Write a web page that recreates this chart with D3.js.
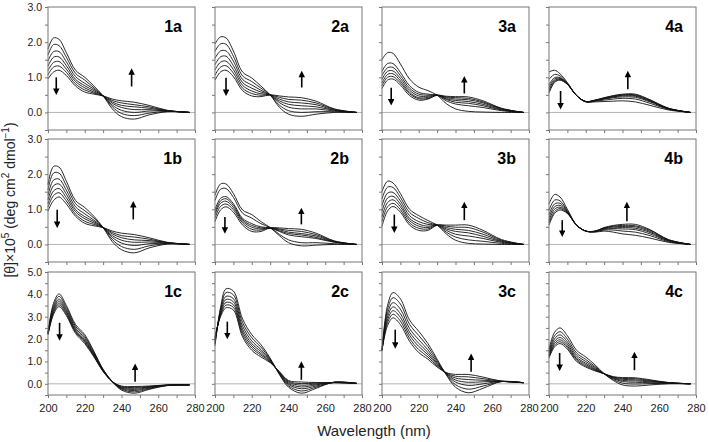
<!DOCTYPE html>
<html>
<head>
<meta charset="utf-8">
<script src="https://cdn.jsdelivr.net/npm/d3@7"></script>
<style>
  body { margin: 0; background: #fff; }
  svg { font-family: "Liberation Sans", Arial, sans-serif; }
  .tick text { fill: #222; }
</style>
</head>
<body>
<div id="chart"></div>
<script>
// wavelength grid (nm) shared by every spectrum
var wavelengths = [200, 203, 206, 210, 215, 220, 225, 230, 235, 240, 247, 255, 265, 277];

// [θ]×10^5 values, one row per spectrum
var p1a = [
  [1.80, 2.12, 2.08, 1.70, 1.20, 1.00, 0.75, 0.47, 0.10, -0.12, -0.19, -0.07, 0.02, 0.00],
  [1.63, 1.93, 1.90, 1.57, 1.11, 0.92, 0.70, 0.47, 0.16, -0.03, -0.09, -0.02, 0.03, 0.00],
  [1.46, 1.73, 1.73, 1.44, 1.02, 0.83, 0.66, 0.47, 0.21, 0.06, 0.00, 0.04, 0.04, 0.00],
  [1.32, 1.57, 1.58, 1.33, 0.94, 0.76, 0.62, 0.47, 0.26, 0.14, 0.08, 0.08, 0.04, 0.00],
  [1.19, 1.42, 1.45, 1.23, 0.88, 0.70, 0.58, 0.47, 0.30, 0.20, 0.16, 0.12, 0.05, 0.00],
  [1.07, 1.29, 1.32, 1.14, 0.81, 0.64, 0.55, 0.47, 0.34, 0.27, 0.22, 0.16, 0.05, 0.00],
  [0.95, 1.15, 1.20, 1.05, 0.75, 0.58, 0.52, 0.47, 0.38, 0.33, 0.29, 0.20, 0.06, 0.00]
];
var p1b = [
  [1.70, 2.22, 2.20, 1.80, 1.25, 1.05, 0.80, 0.48, 0.08, -0.15, -0.24, -0.10, 0.01, 0.00],
  [1.55, 2.03, 2.03, 1.67, 1.16, 0.96, 0.75, 0.48, 0.14, -0.06, -0.14, -0.04, 0.02, 0.00],
  [1.40, 1.83, 1.86, 1.54, 1.07, 0.87, 0.69, 0.48, 0.20, 0.04, -0.03, 0.02, 0.03, 0.00],
  [1.27, 1.67, 1.72, 1.43, 0.99, 0.79, 0.65, 0.48, 0.25, 0.12, 0.06, 0.07, 0.04, 0.00],
  [1.16, 1.52, 1.59, 1.33, 0.93, 0.73, 0.61, 0.48, 0.30, 0.19, 0.13, 0.11, 0.05, 0.00],
  [1.06, 1.39, 1.47, 1.24, 0.86, 0.66, 0.57, 0.48, 0.34, 0.25, 0.21, 0.15, 0.05, 0.00],
  [0.95, 1.25, 1.35, 1.15, 0.80, 0.60, 0.53, 0.48, 0.38, 0.32, 0.28, 0.19, 0.06, 0.00]
];
var p1c = [
  [2.30, 3.60, 4.02, 3.50, 2.65, 2.20, 1.45, 0.65, 0.10, -0.28, -0.42, -0.25, -0.08, -0.05],
  [2.28, 3.50, 3.91, 3.41, 2.57, 2.12, 1.40, 0.63, 0.10, -0.24, -0.36, -0.22, -0.07, -0.05],
  [2.26, 3.40, 3.79, 3.32, 2.49, 2.04, 1.35, 0.61, 0.10, -0.21, -0.30, -0.19, -0.07, -0.05],
  [2.24, 3.32, 3.70, 3.24, 2.42, 1.97, 1.31, 0.59, 0.10, -0.18, -0.25, -0.16, -0.06, -0.05],
  [2.23, 3.24, 3.61, 3.18, 2.36, 1.91, 1.27, 0.58, 0.10, -0.15, -0.20, -0.14, -0.06, -0.05],
  [2.21, 3.17, 3.53, 3.11, 2.31, 1.86, 1.24, 0.56, 0.10, -0.13, -0.16, -0.12, -0.05, -0.05],
  [2.20, 3.10, 3.45, 3.05, 2.25, 1.80, 1.20, 0.55, 0.10, -0.10, -0.12, -0.10, -0.05, -0.05]
];
var p2a = [
  [1.95, 2.15, 2.12, 1.75, 1.15, 0.98, 0.75, 0.50, 0.15, -0.05, -0.11, -0.05, 0.00, 0.00],
  [1.74, 1.95, 1.94, 1.60, 1.04, 0.88, 0.69, 0.50, 0.21, 0.05, 0.00, 0.02, 0.02, 0.00],
  [1.54, 1.75, 1.75, 1.46, 0.94, 0.78, 0.63, 0.50, 0.28, 0.15, 0.10, 0.10, 0.04, 0.00],
  [1.36, 1.58, 1.60, 1.33, 0.85, 0.69, 0.58, 0.50, 0.33, 0.23, 0.19, 0.16, 0.06, 0.00],
  [1.21, 1.43, 1.46, 1.22, 0.77, 0.61, 0.53, 0.50, 0.38, 0.30, 0.27, 0.22, 0.07, 0.00],
  [1.06, 1.29, 1.33, 1.12, 0.69, 0.54, 0.49, 0.50, 0.43, 0.37, 0.35, 0.27, 0.09, 0.00],
  [0.92, 1.15, 1.20, 1.02, 0.62, 0.47, 0.45, 0.50, 0.47, 0.44, 0.42, 0.32, 0.10, 0.00]
];
var p2b = [
  [1.40, 1.72, 1.72, 1.45, 0.98, 0.85, 0.65, 0.48, 0.25, 0.05, -0.04, -0.02, 0.00, 0.00],
  [1.25, 1.57, 1.59, 1.34, 0.89, 0.75, 0.59, 0.48, 0.29, 0.13, 0.05, 0.05, 0.02, 0.00],
  [0.99, 1.31, 1.36, 1.16, 0.74, 0.59, 0.50, 0.47, 0.37, 0.27, 0.22, 0.17, 0.06, 0.00],
  [0.91, 1.24, 1.30, 1.11, 0.70, 0.54, 0.47, 0.47, 0.39, 0.31, 0.27, 0.20, 0.07, 0.00],
  [0.84, 1.17, 1.23, 1.05, 0.66, 0.49, 0.44, 0.47, 0.42, 0.35, 0.31, 0.24, 0.08, 0.00],
  [0.75, 1.08, 1.15, 0.99, 0.61, 0.43, 0.41, 0.47, 0.44, 0.40, 0.37, 0.28, 0.09, 0.00],
  [0.65, 0.98, 1.07, 0.92, 0.55, 0.37, 0.37, 0.47, 0.47, 0.45, 0.43, 0.32, 0.10, 0.00]
];
var p2c = [
  [1.70, 3.40, 4.25, 4.15, 2.90, 2.20, 1.75, 1.15, 0.42, -0.15, -0.42, -0.20, 0.08, 0.02],
  [1.78, 3.32, 4.08, 3.98, 2.74, 2.06, 1.64, 1.11, 0.45, -0.09, -0.32, -0.15, 0.07, 0.02],
  [1.86, 3.24, 3.91, 3.81, 2.58, 1.92, 1.53, 1.07, 0.47, -0.03, -0.22, -0.10, 0.07, 0.02],
  [1.93, 3.17, 3.77, 3.67, 2.44, 1.80, 1.44, 1.04, 0.49, 0.02, -0.14, -0.05, 0.06, 0.02],
  [1.99, 3.11, 3.64, 3.54, 2.32, 1.70, 1.35, 1.01, 0.51, 0.07, -0.06, -0.01, 0.06, 0.02],
  [2.04, 3.06, 3.52, 3.42, 2.21, 1.60, 1.28, 0.98, 0.53, 0.11, 0.01, 0.03, 0.05, 0.02],
  [2.10, 3.00, 3.40, 3.30, 2.10, 1.50, 1.20, 0.95, 0.55, 0.15, 0.08, 0.06, 0.05, 0.02]
];
var p3a = [
  [1.50, 1.70, 1.68, 1.38, 0.95, 0.72, 0.62, 0.49, 0.25, 0.10, 0.03, 0.01, 0.00, 0.00],
  [1.17, 1.39, 1.39, 1.14, 0.76, 0.57, 0.52, 0.49, 0.33, 0.24, 0.19, 0.14, 0.05, 0.00],
  [1.05, 1.27, 1.28, 1.05, 0.69, 0.52, 0.49, 0.49, 0.37, 0.29, 0.26, 0.19, 0.07, 0.00],
  [0.94, 1.17, 1.18, 0.97, 0.63, 0.47, 0.46, 0.49, 0.39, 0.34, 0.31, 0.23, 0.08, 0.00],
  [0.84, 1.08, 1.10, 0.90, 0.57, 0.42, 0.43, 0.49, 0.42, 0.38, 0.36, 0.27, 0.10, 0.00],
  [0.76, 1.00, 1.02, 0.84, 0.53, 0.39, 0.40, 0.49, 0.44, 0.42, 0.40, 0.30, 0.11, 0.00],
  [0.68, 0.92, 0.95, 0.78, 0.48, 0.35, 0.38, 0.49, 0.46, 0.45, 0.44, 0.33, 0.12, 0.00]
];
var p3b = [
  [1.50, 1.80, 1.75, 1.45, 1.00, 0.82, 0.68, 0.55, 0.30, 0.12, 0.03, 0.01, 0.00, 0.00],
  [1.30, 1.63, 1.62, 1.34, 0.91, 0.74, 0.62, 0.55, 0.35, 0.21, 0.13, 0.09, 0.03, 0.00],
  [1.11, 1.46, 1.48, 1.24, 0.82, 0.65, 0.57, 0.55, 0.40, 0.29, 0.24, 0.17, 0.06, 0.00],
  [0.94, 1.32, 1.37, 1.15, 0.74, 0.58, 0.52, 0.55, 0.44, 0.37, 0.33, 0.23, 0.08, 0.00],
  [0.79, 1.19, 1.27, 1.07, 0.68, 0.52, 0.48, 0.55, 0.48, 0.43, 0.40, 0.29, 0.10, 0.00],
  [0.66, 1.07, 1.17, 0.99, 0.61, 0.46, 0.44, 0.55, 0.52, 0.49, 0.48, 0.35, 0.12, 0.00],
  [0.52, 0.95, 1.08, 0.92, 0.55, 0.40, 0.40, 0.55, 0.55, 0.55, 0.55, 0.40, 0.14, 0.00]
];
var p3c = [
  [1.50, 3.50, 4.08, 3.80, 2.85, 2.35, 1.80, 1.10, 0.40, -0.15, -0.40, -0.20, 0.10, 0.05],
  [1.50, 3.32, 3.85, 3.57, 2.66, 2.16, 1.66, 1.03, 0.42, -0.04, -0.24, -0.10, 0.10, 0.05],
  [1.50, 3.14, 3.63, 3.34, 2.47, 1.97, 1.52, 0.96, 0.44, 0.08, -0.07, 0.00, 0.11, 0.05],
  [1.50, 2.99, 3.44, 3.14, 2.31, 1.81, 1.40, 0.90, 0.46, 0.17, 0.07, 0.09, 0.11, 0.05],
  [1.50, 2.85, 3.27, 2.97, 2.17, 1.67, 1.30, 0.85, 0.47, 0.26, 0.19, 0.16, 0.11, 0.05],
  [1.50, 2.73, 3.11, 2.81, 2.03, 1.53, 1.20, 0.80, 0.49, 0.34, 0.31, 0.23, 0.12, 0.05],
  [1.50, 2.60, 2.95, 2.65, 1.90, 1.40, 1.10, 0.75, 0.50, 0.42, 0.42, 0.30, 0.12, 0.05]
];
var p4a = [
  [1.15, 1.20, 1.10, 0.85, 0.48, 0.30, 0.30, 0.31, 0.32, 0.33, 0.30, 0.20, 0.07, 0.00],
  [0.94, 1.08, 1.04, 0.83, 0.48, 0.30, 0.32, 0.35, 0.38, 0.40, 0.38, 0.26, 0.09, 0.00],
  [0.79, 0.99, 0.99, 0.82, 0.48, 0.31, 0.33, 0.38, 0.42, 0.44, 0.43, 0.30, 0.10, 0.00],
  [0.72, 0.95, 0.97, 0.81, 0.48, 0.31, 0.34, 0.39, 0.44, 0.47, 0.46, 0.32, 0.11, 0.00],
  [0.66, 0.91, 0.95, 0.81, 0.48, 0.31, 0.34, 0.40, 0.45, 0.49, 0.48, 0.33, 0.11, 0.00],
  [0.60, 0.88, 0.93, 0.80, 0.48, 0.31, 0.35, 0.41, 0.47, 0.50, 0.50, 0.35, 0.12, 0.00],
  [0.55, 0.85, 0.92, 0.80, 0.48, 0.31, 0.35, 0.42, 0.48, 0.52, 0.52, 0.36, 0.12, 0.00]
];
var p4b = [
  [1.15, 1.42, 1.35, 1.00, 0.55, 0.38, 0.35, 0.38, 0.35, 0.30, 0.26, 0.18, 0.06, 0.00],
  [0.97, 1.26, 1.24, 0.96, 0.55, 0.38, 0.36, 0.41, 0.41, 0.38, 0.35, 0.25, 0.08, 0.00],
  [0.85, 1.15, 1.17, 0.94, 0.55, 0.38, 0.37, 0.43, 0.45, 0.44, 0.42, 0.30, 0.10, 0.00],
  [0.76, 1.07, 1.11, 0.92, 0.55, 0.38, 0.37, 0.45, 0.47, 0.48, 0.46, 0.34, 0.11, 0.00],
  [0.68, 1.00, 1.06, 0.91, 0.55, 0.38, 0.37, 0.46, 0.50, 0.51, 0.50, 0.37, 0.12, 0.00],
  [0.61, 0.93, 1.02, 0.89, 0.55, 0.38, 0.38, 0.47, 0.52, 0.54, 0.53, 0.40, 0.13, 0.00],
  [0.55, 0.88, 0.98, 0.88, 0.55, 0.38, 0.38, 0.48, 0.54, 0.57, 0.57, 0.42, 0.14, 0.00]
];
var p4c = [
  [1.55, 2.30, 2.50, 2.15, 1.50, 1.20, 0.85, 0.45, 0.15, -0.05, -0.10, -0.05, 0.00, 0.00],
  [1.45, 2.14, 2.33, 2.00, 1.38, 1.09, 0.78, 0.45, 0.19, 0.03, -0.01, 0.01, 0.02, 0.00],
  [1.37, 2.01, 2.19, 1.88, 1.28, 1.00, 0.73, 0.45, 0.23, 0.10, 0.07, 0.05, 0.03, 0.00],
  [1.30, 1.90, 2.07, 1.78, 1.19, 0.92, 0.68, 0.45, 0.26, 0.15, 0.13, 0.09, 0.04, 0.00],
  [1.25, 1.81, 1.97, 1.69, 1.12, 0.86, 0.64, 0.45, 0.28, 0.20, 0.18, 0.12, 0.05, 0.00],
  [1.20, 1.73, 1.88, 1.62, 1.06, 0.80, 0.61, 0.45, 0.30, 0.24, 0.23, 0.15, 0.05, 0.00],
  [1.15, 1.65, 1.80, 1.55, 1.00, 0.75, 0.58, 0.45, 0.32, 0.28, 0.27, 0.18, 0.06, 0.00]
];

// trend arrows in data units: [wavelength, from, to]
var downArrows = {
  "1a": [204.5, 1.00, 0.50], "1b": [205, 0.99, 0.47], "1c": [206.3, 2.73, 1.93],
  "2a": [206, 0.99, 0.47], "2b": [205.4, 0.78, 0.31], "2c": [206.7, 2.78, 2.00],
  "3a": [205, 0.70, 0.20], "3b": [206.7, 0.85, 0.33], "3c": [207.2, 2.42, 1.58],
  "4a": [206.3, 0.61, 0.09], "4b": [207.2, 0.69, 0.22], "4c": [205.8, 1.38, 0.58]
};
var upArrows = {
  "1a": [245.5, 0.74, 1.25], "1b": [246.4, 0.71, 1.23], "1c": [247.4, 0.09, 0.90],
  "2a": [247.2, 0.71, 1.18], "2b": [247, 0.57, 1.04], "2c": [247, 0.18, 1.00],
  "3a": [244.8, 0.54, 1.03], "3b": [244.8, 0.69, 1.21], "3c": [248.5, 0.54, 1.35],
  "4a": [242.9, 0.66, 1.18], "4b": [242.4, 0.66, 1.21], "4c": [246.5, 0.61, 1.43]
};

var rowNames = ["a", "b", "c"];
var rowDomains = [[-0.5, 3.0], [-0.5, 3.0], [-0.5, 5.0]];
var xTicks = [200, 210, 220, 230, 240, 250, 260, 270, 280];
var xTickLabels = [200, 220, 240, 260, 280];
var spectra = {
  "1a": p1a, "1b": p1b, "1c": p1c, "2a": p2a, "2b": p2b, "2c": p2c,
  "3a": p3a, "3b": p3b, "3c": p3c, "4a": p4a, "4b": p4b, "4c": p4c
};

var width = 709, height = 442;
var panelW = 147, panelH = 123;
var lefts = [48, 215, 382, 549];
var tops = [7, 139, 272];

var svg = d3.select("#chart").append("svg")
  .attr("width", width)
  .attr("height", height);

svg.append("defs").append("marker")
  .attr("id", "head")
  .attr("markerUnits", "userSpaceOnUse")
  .attr("viewBox", "0 0 10 10")
  .attr("refX", 2).attr("refY", 5)
  .attr("markerWidth", 7).attr("markerHeight", 6.5)
  .attr("orient", "auto")
  .append("path")
  .attr("d", "M0,0 L10,5 L0,10 z")
  .attr("fill", "#000");

var x = d3.scaleLinear().domain([200, 280]).range([0, panelW]);

var line = function(y) {
  return d3.line()
    .x(function(d) { return x(d[0]); })
    .y(function(d) { return y(d[1]); })
    .curve(d3.curveCatmullRom.alpha(0.5));
};

var drawArrow = function(g, y, a) {
  var y1 = y(a[1]), y2 = y(a[2]);
  var dir = y2 > y1 ? 1 : -1;
  g.append("line")
    .attr("x1", x(a[0])).attr("x2", x(a[0]))
    .attr("y1", y1).attr("y2", y2 - dir * 5)
    .attr("stroke", "#000")
    .attr("stroke-width", 1.6)
    .attr("marker-end", "url(#head)");
};

[1, 2, 3, 4].forEach(function(num, col) {
  rowNames.forEach(function(r, row) {
    var id = num + r;
    var g = svg.append("g")
      .attr("transform", "translate(" + lefts[col] + "," + tops[row] + ")");
    var dom = rowDomains[row];
    var y = d3.scaleLinear().domain(dom).range([panelH, 0]);

    var yTicks = d3.range(dom[0], dom[1] + 0.01, 0.5);
    var yAxis = d3.axisLeft(y).tickValues(yTicks).tickSize(3).tickPadding(3)
      .tickFormat(function(d) {
        return (col === 0 && d >= 0 && Math.abs(d % 1) < 1e-9) ? d.toFixed(1) : "";
      });
    var xAxis = d3.axisBottom(x).tickValues(xTicks).tickSize(3).tickPadding(6)
      .tickFormat(function(d) {
        return (row === 2 && xTickLabels.indexOf(d) >= 0) ? d : "";
      });

    var ya = g.append("g").call(yAxis);
    var xa = g.append("g").attr("transform", "translate(0," + panelH + ")").call(xAxis);
    [ya, xa].forEach(function(ax) {
      ax.select(".domain").remove();
      ax.selectAll("line").attr("stroke", "#777");
      ax.selectAll("text").style("font-size", "10.5px").attr("fill", "#222");
    });
    xa.selectAll("text").style("font-size", "11px");

    g.append("line")
      .attr("x1", 0).attr("x2", panelW)
      .attr("y1", y(0)).attr("y2", y(0))
      .attr("stroke", "#b4b4b4")
      .attr("stroke-width", 1);

    spectra[id].forEach(function(vals) {
      var pts = wavelengths.map(function(w, i) { return [w, vals[i]]; });
      g.append("path")
        .datum(pts)
        .attr("d", line(y))
        .attr("fill", "none")
        .attr("stroke", "#111")
        .attr("stroke-width", 0.9);
    });

    drawArrow(g, y, downArrows[id]);
    drawArrow(g, y, upArrows[id]);

    g.append("rect")
      .attr("width", panelW).attr("height", panelH)
      .attr("fill", "none")
      .attr("stroke", "#777")
      .attr("stroke-width", 1);

    g.append("text")
      .attr("x", panelW - 13)
      .attr("y", 25)
      .attr("text-anchor", "end")
      .style("font-size", "16px")
      .style("font-weight", "bold")
      .text(id);
  });
});

svg.append("text")
  .attr("x", 374)
  .attr("y", 436)
  .attr("text-anchor", "middle")
  .style("font-size", "15px")
  .attr("fill", "#222")
  .text("Wavelength (nm)");

var yTitle = svg.append("text")
  .attr("transform", "translate(15,200) rotate(-90)")
  .attr("text-anchor", "middle")
  .style("font-size", "14px")
  .attr("fill", "#222");
yTitle.append("tspan").text("[θ]×10");
yTitle.append("tspan").attr("dy", -6).style("font-size", "10px").text("5");
yTitle.append("tspan").attr("dy", 6).text(" (deg cm");
yTitle.append("tspan").attr("dy", -6).style("font-size", "10px").text("2");
yTitle.append("tspan").attr("dy", 6).text(" dmol");
yTitle.append("tspan").attr("dy", -6).style("font-size", "10px").text("−1");
yTitle.append("tspan").attr("dy", 6).text(")");
</script>
</body>
</html>
